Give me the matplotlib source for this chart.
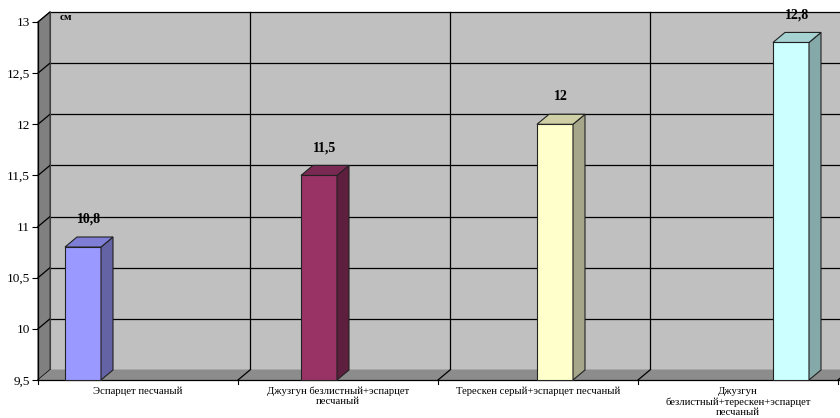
import matplotlib.pyplot as plt
from matplotlib.patches import Polygon

plt.rcParams['font.family'] = ['Liberation Serif', 'DejaVu Serif']

# Data
categories = [
    'Эспарцет песчаный',
    'Джузгун безлистный+эспарцет\nпесчаный',
    'Терескен серый+эспарцет песчаный',
    'Джузгун\nбезлистный+терескен+эспарцет\nпесчаный',
]
values = [10.8, 11.5, 12.0, 12.8]
value_labels = ['10,8', '11,5', '12', '12,8']
yticks = [9.5, 10, 10.5, 11, 11.5, 12, 12.5, 13]
ytick_labels = ['9,5', '10', '10,5', '11', '11,5', '12', '12,5', '13']

front_colors = ['#9999FF', '#993366', '#FFFFCC', '#CCFFFF']
side_colors = ['#6363A6', '#5E1F3F', '#A6A68A', '#85A8A8']
top_colors = ['#7E7ED6', '#7A2952', '#CFCFA6', '#A6D2D2']

ymin, ymax = 9.5, 13.0
n = len(categories)
dx, dy = 0.06, 0.098   # depth offset of the 3D box
bw = 0.18              # bar width

fig = plt.figure(figsize=(8.4, 4.18), dpi=100)
ax = fig.add_axes([38 / 840, 38 / 418, 800 / 840, 358 / 418])
ax.set_xlim(0, n)
ax.set_ylim(ymin, ymax)
for s in ax.spines.values():
    s.set_visible(False)
ax.set_facecolor('none')


def poly(pts, fc, z, ec='none', lw=0.8):
    ax.add_patch(Polygon(pts, closed=True, fc=fc, ec=ec, lw=lw, zorder=z, clip_on=False))


# back wall, left wall, floor
poly([(dx, ymin + dy), (n + dx + 0.1, ymin + dy), (n + dx + 0.1, ymax + dy), (dx, ymax + dy)], '#C0C0C0', 1)
poly([(0, ymin), (dx, ymin + dy), (dx, ymax + dy), (0, ymax)], '#808080', 1, ec='#404040')
poly([(0, ymin), (n + 0.1, ymin), (n + 0.1 + dx, ymin + dy), (dx, ymin + dy)], '#8C8C8C', 2)

# gridlines on walls
for y in yticks:
    ax.plot([dx, n + dx + 0.1], [y + dy, y + dy], color='black', lw=0.9, zorder=1.5, clip_on=False)
    ax.plot([0, dx], [y, y + dy], color='black', lw=0.9, zorder=1.5, clip_on=False)
for i in range(1, n + 1):
    ax.plot([i + dx, i + dx], [ymin + dy, ymax + dy], color='black', lw=0.9, zorder=1.5, clip_on=False)
    ax.plot([i, i + dx], [ymin, ymin + dy], color='black', lw=0.9, zorder=2.5, clip_on=False)
ax.plot([dx, dx], [ymin + dy, ymax + dy], color='#404040', lw=0.8, zorder=1.6, clip_on=False)

# axes lines
ax.plot([0, 0], [ymin, ymax], color='black', lw=0.9, zorder=3, clip_on=False)
ax.plot([0, n + 0.1], [ymin, ymin], color='black', lw=0.9, zorder=3, clip_on=False)

# bars
for i, v in enumerate(values):
    x0 = 0.135 + 1.18 * i
    x1 = x0 + bw
    poly([(x0, ymin), (x1, ymin), (x1, v), (x0, v)], front_colors[i], 4, ec='#222222')
    poly([(x1, ymin), (x1 + dx, ymin + dy), (x1 + dx, v + dy), (x1, v)], side_colors[i], 4, ec='#222222')
    poly([(x0, v), (x1, v), (x1 + dx, v + dy), (x0 + dx, v + dy)], top_colors[i], 4, ec='#222222')
    ax.text((x0 + x1 + dx) / 2, v + 0.27, value_labels[i], ha='center', va='center',
            fontsize=10, fontweight='bold', zorder=5)

ax.text(0.11, ymax + 0.04, 'см', fontsize=8, fontweight='bold', ha='left', va='center', zorder=5)

# ticks and labels
ax.set_yticks(yticks)
ax.set_yticklabels(ytick_labels, fontsize=9.5)
ax.set_xticks([i + 0.5 for i in range(n)])
ax.set_xticklabels(categories, fontsize=7.7, linespacing=1.15)
ax.tick_params(axis='x', length=0, pad=5)
ax.tick_params(axis='y', length=4, width=0.8, pad=2)
for i in range(n + 1):
    ax.plot([i, i], [ymin, ymin - 0.04], color='black', lw=0.8, clip_on=False, zorder=3)

fig.savefig('out.png', dpi=100)
